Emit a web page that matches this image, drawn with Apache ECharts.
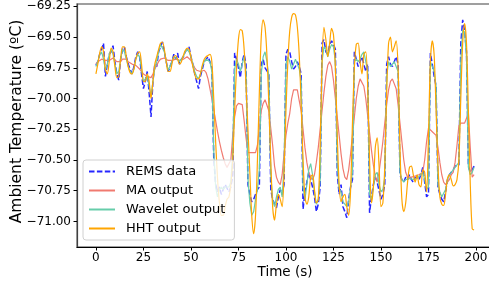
<!DOCTYPE html>
<html>
<head>
<meta charset="UTF-8">
<title>Ambient temperature</title>
<script src="https://cdn.jsdelivr.net/npm/echarts@6/dist/echarts.min.js"></script>
<style>
  html, body { margin: 0; padding: 0; background: #fff; }
  #chart { width: 489px; height: 281px; }
</style>
</head>
<body>
<div id="chart"></div>
<script>
// samples are 1 s apart, starting at t = 0
var remsData = [
  -69.73, -69.70, -69.64, -69.60, -69.55, -69.82, -69.72, -69.64, -69.62, -69.57,
  -69.70, -69.80, -69.85, -69.68, -69.60, -69.58, -69.66, -69.72, -69.76, -69.80,
  -69.74, -69.66, -69.62, -69.66, -69.80, -69.92, -69.86, -69.78, -69.95, -70.15,
  -69.86, -69.72, -69.74, -69.62, -69.58, -69.54, -69.62, -69.70, -69.78, -69.74,
  -69.70, -69.64, -69.68, -69.63, -69.72, -69.68, -69.66, -69.62, -69.60, -69.58,
  -69.66, -69.72, -69.80, -69.86, -69.92, -69.82, -69.76, -69.70, -69.68, -69.66,
  -69.70, -69.75, -70.48, -70.70, -70.76, -70.72, -70.78, -70.74, -70.70, -70.73,
  -70.76, -70.72, -70.62, -69.63, -69.68, -69.75, -69.83, -69.70, -69.64, -69.72,
  -70.70, -70.78, -70.84, -70.82, -70.78, -70.74, -70.72, -69.72, -69.68, -69.75,
  -69.76, -69.80, -70.74, -70.82, -70.86, -70.89, -70.80, -70.74, -70.78, -70.70,
  -69.64, -69.60, -69.62, -69.70, -69.76, -69.74, -69.70, -69.74, -69.80, -70.90,
  -70.76, -70.68, -70.60, -70.66, -70.72, -70.80, -70.92, -70.86, -70.72, -69.55,
  -69.52, -69.62, -69.64, -69.56, -69.53, -69.56, -69.60, -70.62, -70.78, -70.70,
  -70.88, -70.92, -70.97, -70.82, -70.72, -70.66, -69.62, -69.68, -69.74, -69.70,
  -69.66, -69.72, -69.78, -69.72, -70.93, -70.80, -70.70, -70.64, -70.68, -70.75,
  -70.82, -70.78, -70.70, -69.72, -69.66, -69.72, -69.74, -69.70, -69.66, -69.72,
  -70.62, -70.66, -70.68, -70.64, -70.66, -70.62, -70.66, -70.68, -70.64, -70.63,
  -70.66, -70.62, -70.56, -70.68, -70.80, -70.78, -69.63, -69.72, -69.82, -69.90,
  -70.72, -70.78, -70.82, -70.84, -70.76, -70.66, -70.62, -70.60, -70.58, -70.55,
  -70.56, -70.54, -69.55, -69.36, -69.45, -69.62, -70.55, -70.60, -70.58, -70.55
];
var maData = [
  -69.72, -69.70, -69.69, -69.68, -69.68, -69.69, -69.70, -69.69, -69.68, -69.67,
  -69.68, -69.70, -69.71, -69.70, -69.68, -69.67, -69.68, -69.70, -69.71, -69.72,
  -69.72, -69.73, -69.74, -69.76, -69.78, -69.80, -69.81, -69.82, -69.82, -69.83,
  -69.80, -69.76, -69.73, -69.70, -69.68, -69.67, -69.67, -69.68, -69.69, -69.70,
  -69.69, -69.68, -69.68, -69.68, -69.69, -69.69, -69.68, -69.67, -69.66, -69.67,
  -69.69, -69.72, -69.75, -69.77, -69.78, -69.78, -69.77, -69.77, -69.79, -69.84,
  -69.92, -70.00, -70.09, -70.18, -70.27, -70.35, -70.42, -70.48, -70.53, -70.56,
  -70.57, -70.50, -70.30, -70.15, -70.06, -70.04, -70.03, -70.05, -70.18, -70.32,
  -70.44, -70.45, -70.44, -70.44, -70.44, -70.38, -70.24, -70.10, -70.04, -70.01,
  -70.00, -70.10, -70.24, -70.38, -70.55, -70.64, -70.68, -70.70, -70.62, -70.45,
  -70.30, -70.20, -70.12, -70.00, -69.93, -69.92, -69.93, -70.02, -70.10, -70.25,
  -70.40, -70.52, -70.60, -70.64, -70.66, -70.62, -70.52, -70.40, -70.25, -70.10,
  -69.95, -69.82, -69.73, -69.70, -69.74, -69.85, -70.00, -70.15, -70.30, -70.45,
  -70.57, -70.64, -70.66, -70.58, -70.45, -70.30, -70.15, -70.00, -69.90, -69.84,
  -69.84, -69.90, -70.00, -70.14, -70.28, -70.42, -70.54, -70.63, -70.68, -70.60,
  -70.48, -70.35, -70.20, -70.05, -69.93, -69.86, -69.84, -69.84, -69.92, -70.05,
  -70.20, -70.35, -70.50, -70.60, -70.64, -70.64, -70.64, -70.63, -70.63, -70.63,
  -70.62, -70.62, -70.60, -70.50, -70.35, -70.24, -70.25, -70.27, -70.28, -70.30,
  -70.40, -70.52, -70.62, -70.68, -70.70, -70.68, -70.66, -70.62, -70.60, -70.52,
  -70.38, -70.22, -70.20, -70.20, -70.20, -70.16, -70.12, -70.40, -70.64, -70.62
];
var waveletData = [
  -69.74, -69.70, -69.64, -69.62, -69.68, -69.77, -69.72, -69.64, -69.60, -69.64,
  -69.72, -69.80, -69.78, -69.68, -69.60, -69.62, -69.68, -69.74, -69.78, -69.80,
  -69.76, -69.68, -69.64, -69.66, -69.76, -69.86, -69.84, -69.82, -69.90, -69.98,
  -69.86, -69.75, -69.70, -69.62, -69.56, -69.56, -69.62, -69.70, -69.77, -69.76,
  -69.70, -69.66, -69.66, -69.68, -69.70, -69.68, -69.66, -69.62, -69.60, -69.62,
  -69.66, -69.72, -69.78, -69.82, -69.84, -69.80, -69.74, -69.70, -69.68, -69.68,
  -69.70, -69.78, -70.42, -70.72, -70.80, -70.74, -70.72, -70.74, -70.72, -70.72,
  -70.72, -70.68, -70.45, -69.76, -69.68, -69.72, -69.78, -69.72, -69.66, -69.78,
  -70.65, -70.85, -70.95, -70.92, -70.82, -70.74, -70.58, -69.80, -69.66, -69.62,
  -69.70, -69.82, -70.62, -70.82, -70.88, -70.80, -70.74, -70.72, -70.80, -70.55,
  -69.72, -69.66, -69.70, -69.76, -69.72, -69.68, -69.72, -69.76, -69.86, -70.72,
  -70.82, -70.70, -70.58, -70.53, -70.62, -70.76, -70.86, -70.82, -70.66, -69.70,
  -69.58, -69.60, -69.66, -69.60, -69.56, -69.58, -69.70, -70.55, -70.74, -70.76,
  -70.84, -70.86, -70.88, -70.84, -70.72, -70.60, -69.70, -69.68, -69.70, -69.68,
  -69.64, -69.62, -69.70, -69.78, -70.78, -70.82, -70.72, -70.62, -70.60, -70.70,
  -70.76, -70.74, -70.64, -69.82, -69.70, -69.74, -69.72, -69.70, -69.70, -69.78,
  -70.60, -70.66, -70.68, -70.66, -70.66, -70.65, -70.65, -70.66, -70.66, -70.65,
  -70.64, -70.62, -70.60, -70.66, -70.74, -70.72, -69.70, -69.70, -69.78, -69.90,
  -70.70, -70.76, -70.80, -70.80, -70.74, -70.66, -70.62, -70.60, -70.58, -70.56,
  -70.55, -70.52, -69.70, -69.44, -69.46, -69.66, -70.56, -70.62, -70.60, -70.56
];
var hhtData = [
  -69.80, -69.72, -69.63, -69.58, -69.62, -69.76, -69.80, -69.70, -69.59, -69.62,
  -69.74, -69.83, -69.82, -69.68, -69.58, -69.58, -69.66, -69.74, -69.79, -69.80,
  -69.76, -69.68, -69.63, -69.62, -69.72, -69.86, -69.86, -69.80, -69.86, -70.00,
  -69.86, -69.72, -69.66, -69.60, -69.55, -69.54, -69.60, -69.70, -69.78, -69.78,
  -69.72, -69.66, -69.65, -69.68, -69.72, -69.70, -69.65, -69.61, -69.59, -69.60,
  -69.66, -69.74, -69.80, -69.84, -69.84, -69.80, -69.73, -69.68, -69.66, -69.65,
  -69.64, -69.70, -70.00, -70.35, -70.65, -70.85, -70.95, -70.95, -70.88, -70.82,
  -70.80, -70.70, -70.50, -70.10, -69.75, -69.52, -69.44, -69.45, -69.60, -69.90,
  -70.25, -70.60, -70.95, -71.10, -70.95, -70.50, -69.95, -69.50, -69.36, -69.42,
  -69.65, -70.05, -70.50, -70.88, -70.99, -70.86, -70.78, -70.82, -70.88, -70.60,
  -70.10, -69.70, -69.45, -69.34, -69.31, -69.32, -69.42, -69.65, -70.05, -70.50,
  -70.80, -70.86, -70.80, -70.64, -70.62, -70.74, -70.85, -70.82, -70.40, -69.70,
  -69.42, -69.52, -69.66, -69.55, -69.43, -69.48, -69.75, -70.30, -70.70, -70.84,
  -70.80, -70.78, -70.88, -70.95, -70.75, -70.20, -69.75, -69.56, -69.55, -69.70,
  -69.80, -69.64, -69.62, -69.90, -70.50, -70.85, -70.72, -70.40, -70.32, -70.55,
  -70.88, -70.85, -70.55, -69.95, -69.55, -69.50, -69.62, -69.58, -69.53, -69.75,
  -70.40, -70.82, -70.92, -70.85, -70.68, -70.56, -70.55, -70.62, -70.68, -70.62,
  -70.70, -70.72, -70.58, -70.60, -70.76, -70.30, -69.70, -69.53, -69.65, -70.10,
  -70.55, -70.80, -70.86, -70.87, -70.78, -70.65, -70.62, -70.66, -70.71, -70.70,
  -70.66, -70.50, -70.00, -69.55, -69.39, -69.55, -70.10, -70.70, -71.06, -71.07
];
var xTicks = [0, 25, 50, 75, 100, 125, 150, 175, 200];
var yTicks = [-71.00, -70.75, -70.50, -70.25, -70.00, -69.75, -69.50, -69.25];

function pairs(arr) {
  return arr.map(function (v, i) { return [i, v]; });
}
function minusFmt(v) {
  return (v < 0 ? '\u2212' : '') + Math.abs(v).toFixed(2);
}

var font = 'DejaVu Sans';
var chart = echarts.init(document.getElementById('chart'));
var option = {
  animation: false,
  textStyle: { fontFamily: font },
  grid: {
    left: 77, top: 4, right: -4, bottom: 34,
    outerBoundsMode: 'none',
    show: true, borderColor: '#808080', borderWidth: 1.5
  },
  legend: {
    orient: 'vertical',
    left: 83, top: 160,
    padding: [5, 9, 5, 5],
    itemWidth: 26, itemHeight: 14, itemGap: 6,
    backgroundColor: 'rgba(255,255,255,0.8)',
    borderColor: '#d0d0d0', borderWidth: 1, borderRadius: 3,
    textStyle: { fontFamily: font, fontSize: 13, color: '#000', padding: [0, 0, 0, 6] },
    data: ['REMS data', 'MA output', 'Wavelet output', 'HHT output']
  },
  xAxis: {
    type: 'value',
    min: -9.95, max: 208.95,
    name: 'Time (s)', nameLocation: 'middle', nameGap: 18, nameMoveOverlap: false,
    nameTextStyle: { fontFamily: font, fontSize: 13.5, color: '#000' },
    axisLine: { onZero: false, lineStyle: { color: '#000', width: 1.2 } },
    axisTick: { customValues: xTicks, length: 3.5, lineStyle: { color: '#000' } },
    axisLabel: { customValues: xTicks, fontFamily: font, fontSize: 12, color: '#000', margin: 5 },
    splitLine: { show: false }
  },
  yAxis: {
    type: 'value',
    min: -71.208, max: -69.231,
    name: 'Ambient Temperature (\u00baC)', nameLocation: 'middle', nameGap: 52, nameMoveOverlap: false,
    nameTextStyle: { fontFamily: font, fontSize: 15.5, color: '#000', padding: [0, 0, 0, 8] },
    axisLine: { show: true, onZero: false, lineStyle: { color: '#404040', width: 1.2 } },
    axisTick: { show: true, customValues: yTicks, length: 3.5, lineStyle: { color: '#000' } },
    axisLabel: { customValues: yTicks, fontFamily: font, fontSize: 12, color: '#000', margin: 6,
      formatter: minusFmt },
    splitLine: { show: false }
  },
  series: [{
    name: 'REMS data', type: 'line', showSymbol: false, symbol: 'none',
    data: pairs(remsData),
    lineStyle: { color: '#0000ff', width: 1.5, type: [5.5, 2.4], opacity: 0.85 },
    itemStyle: { color: '#0000ff', opacity: 0 }
  }, {
    name: 'MA output', type: 'line', showSymbol: false, symbol: 'none',
    data: pairs(maData),
    lineStyle: { color: '#f07a70', width: 1.2 },
    itemStyle: { color: '#f07a70', opacity: 0 }
  }, {
    name: 'Wavelet output', type: 'line', showSymbol: false, symbol: 'none',
    data: pairs(waveletData),
    lineStyle: { color: '#66cdaa', width: 1.2 },
    itemStyle: { color: '#66cdaa', opacity: 0 }
  }, {
    name: 'HHT output', type: 'line', showSymbol: false, symbol: 'none', smooth: 0.3,
    data: pairs(hhtData),
    lineStyle: { color: '#ffa500', width: 1.2 },
    itemStyle: { color: '#ffa500', opacity: 0 }
  }]
};
chart.setOption(option);
</script>
</body>
</html>
